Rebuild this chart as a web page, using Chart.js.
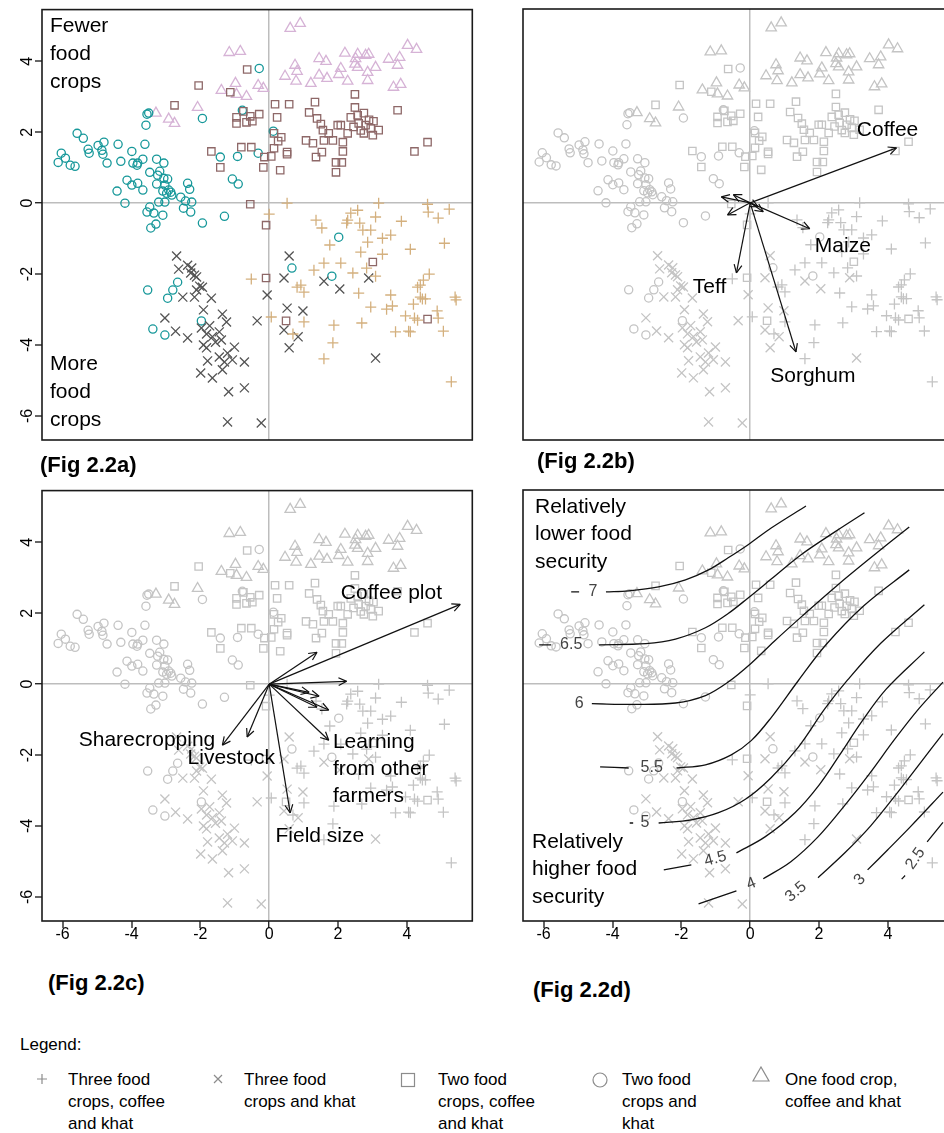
<!DOCTYPE html>
<html>
<head>
<meta charset="utf-8">
<script src="https://cdn.jsdelivr.net/npm/chart.js@4.4.1/dist/chart.umd.min.js"></script>
<style>
  html, body { margin: 0; padding: 0; background: #fff; overflow: hidden; width: 944px; height: 1133px; }
  body { position: relative; font-family: "Liberation Sans", Arial, sans-serif; color: #000; }
  canvas { position: absolute; }
  .fig { position: absolute; font-weight: bold; font-size: 22px; line-height: 24px; }
  .leg { position: absolute; font-size: 17px; line-height: 22px; }
  .sym { position: absolute; }
</style>
</head>
<body>

<canvas id="pA" width="480" height="480" style="left:0;top:0"></canvas>
<canvas id="pB" width="480" height="480" style="left:481px;top:0"></canvas>
<canvas id="pC" width="480" height="480" style="left:0;top:481px"></canvas>
<canvas id="pD" width="480" height="480" style="left:481px;top:481px"></canvas>

<div class="fig" style="left:40px;top:453px">(Fig 2.2a)</div>
<div class="fig" style="left:537px;top:449px">(Fig 2.2b)</div>
<div class="fig" style="left:48px;top:971px">(Fig 2.2c)</div>
<div class="fig" style="left:533px;top:978px">(Fig 2.2d)</div>

<!-- legend -->
<div class="leg" style="left:20px;top:1034px">Legend:</div>
<svg class="sym" style="left:35px;top:1072px" width="14" height="14"><path d="M7 2V12M2 7H12" stroke="#8c8c8c" stroke-width="1.2" fill="none"/></svg>
<div class="leg" style="left:68px;top:1069px">Three food<br>crops, coffee<br>and khat</div>
<svg class="sym" style="left:211px;top:1072px" width="14" height="14"><path d="M3 3L11 11M11 3L3 11" stroke="#8c8c8c" stroke-width="1.2" fill="none"/></svg>
<div class="leg" style="left:244px;top:1069px">Three food<br>crops and khat</div>
<svg class="sym" style="left:400px;top:1072px" width="16" height="16"><rect x="1.5" y="1.5" width="13" height="13" stroke="#8c8c8c" stroke-width="1.2" fill="none"/></svg>
<div class="leg" style="left:438px;top:1069px">Two food<br>crops, coffee<br>and khat</div>
<svg class="sym" style="left:592px;top:1072px" width="16" height="16"><circle cx="8" cy="8" r="7" stroke="#8c8c8c" stroke-width="1.2" fill="none"/></svg>
<div class="leg" style="left:622px;top:1069px">Two food<br>crops and<br>khat</div>
<svg class="sym" style="left:752px;top:1066px" width="18" height="16"><path d="M9 1L17 15H1Z" stroke="#8c8c8c" stroke-width="1.2" fill="none"/></svg>
<div class="leg" style="left:785px;top:1069px">One food crop,<br>coffee and khat</div>

<script>
// ============================================================
// DATA (ordination scores)
// ============================================================

const X_TICKS = [-6, -4, -2, 0, 2, 4];
const Y_TICKS = [-6, -4, -2, 0, 2, 4];
const X_RANGE = [-6.6, 5.9];
const Y_RANGE = [-6.68, 5.46];

// three food crops, coffee and khat (+)
const PLUS_PTS = [
  [0.52,0.00],[3.18,0.00],[4.60,-0.03],[4.62,-0.25],[5.23,-0.17],[4.91,-0.42],[0.00,-0.31],[2.57,-0.20],
  [2.37,-0.28],[2.28,-0.48],[2.25,-0.56],[1.36,-0.48],[1.53,-0.70],[2.63,-0.56],[2.72,-0.76],[2.95,-0.76],
  [3.09,-0.39],[3.84,-0.51],[3.53,-0.90],[3.29,-0.99],[2.86,-1.10],[1.76,-1.18],[4.10,-1.30],[5.09,-1.13],
  [2.66,-1.38],[3.29,-1.44],[1.59,-1.69],[2.08,-1.69],[1.30,-1.89],[2.43,-1.97],[2.83,-1.83],[3.09,-2.06],
  [4.65,-2.00],[4.48,-2.17],[4.39,-2.31],[4.31,-2.37],[0.81,-2.37],[0.92,-2.31],[1.01,-2.51],[2.60,-2.54],
  [3.53,-2.59],[4.39,-2.65],[5.40,-2.65],[-0.52,-2.14],[0.06,-3.21],[1.01,-3.35],[0.69,-3.69],[1.88,-3.44],
  [1.85,-3.94],[1.59,-4.39],[2.69,-3.38],[2.95,-2.93],[3.41,-2.99],[3.58,-2.90],[4.19,-2.85],[4.45,-2.70],
  [4.54,-2.70],[3.96,-3.18],[4.22,-3.24],[4.31,-3.30],[4.88,-3.04],[4.91,-3.24],[3.67,-3.63],[4.05,-3.61],
  [4.10,-3.63],[5.06,-3.61],[5.43,-2.73],[5.29,-5.04]
];

// three food crops and khat (x)
const CROSS_PTS = [
  [-2.69,-1.49],[-2.63,-1.86],[-2.37,-1.75],[-2.25,-1.83],[-2.28,-1.97],[-2.17,-2.03],[-2.11,-2.08],
  [-2.02,-2.34],[-1.94,-2.37],[-2.11,-2.45],[-2.51,-2.65],[-2.17,-2.65],[-1.68,-2.68],[0.58,-1.49],
  [0.43,-2.11],[1.59,-2.20],[2.05,-2.42],[2.89,-2.11],[-0.06,-2.59],[-1.91,-3.01],[-1.36,-3.13],
  [-1.24,-3.35],[-3.03,-3.24],[-2.72,-3.61],[-2.37,-3.80],[-1.97,-3.52],[-1.73,-3.46],[-1.82,-3.69],
  [-1.65,-3.77],[-1.45,-3.63],[-1.56,-3.92],[-1.91,-4.00],[-1.82,-4.08],[-1.39,-3.86],[-1.01,-4.06],
  [-1.21,-4.23],[-1.07,-4.42],[-0.72,-4.48],[-1.79,-4.45],[-1.45,-4.34],[-1.30,-4.48],[-1.36,-4.70],
  [-1.99,-4.79],[-1.65,-4.93],[-1.18,-5.32],[-0.72,-5.21],[-1.21,-6.17],[-0.23,-6.20],[-0.35,-3.32],
  [0.52,-2.96],[0.98,-3.04],[0.43,-3.58],[0.84,-3.77],[0.58,-4.08],[3.09,-4.37]
];

// two food crops, coffee and khat (square)
const SQUARE_PTS = [
  [-0.64,3.77],[-2.05,3.32],[-1.13,3.13],[-2.75,2.76],[-0.95,2.42],[-0.75,2.59],[-0.55,2.45],[-0.29,2.51],
  [-0.95,2.25],[-0.66,2.28],[-0.49,2.31],[-0.81,1.58],[-0.52,1.58],[-1.68,1.46],[2.49,3.07],[0.17,2.79],
  [0.58,2.79],[1.33,2.85],[0.23,2.42],[1.16,2.56],[1.39,2.39],[2.49,2.70],[3.73,2.62],[1.50,2.23],
  [1.56,2.06],[1.73,1.97],[1.99,2.20],[2.08,2.20],[2.28,1.97],[2.37,2.42],[2.57,2.48],[2.75,2.54],
  [2.60,2.25],[2.80,2.20],[3.03,2.31],[2.95,2.11],[3.18,2.06],[2.75,1.97],[3.01,1.92],[2.14,1.72],
  [1.85,1.77],[1.59,1.77],[1.07,1.77],[1.27,1.69],[2.14,1.46],[1.53,1.44],[4.60,1.72],[4.22,1.46],
  [0.35,1.86],[0.14,1.97],[0.26,1.75],[0.52,1.44],[0.14,1.55],[2.45,2.15],[2.66,2.05],[2.90,2.35],
  [-1.42,1.01],[-0.55,-0.03],[-0.09,-0.62],[-0.09,-2.11],[-0.14,1.30],[0.06,1.32],[0.52,1.38],
  [0.32,0.93],[1.36,1.30],[1.94,1.15],[2.11,1.15],[1.94,0.87],[-0.17,1.01],[3.01,-1.66],
  [0.49,-3.32],[4.60,-3.27]
];

// two food crops and khat (circle)
const CIRCLE_PTS = [
  [-0.29,3.80],[-0.78,2.62],[-1.94,2.39],[-3.55,2.51],[-3.50,2.54],[-3.58,2.20],[-5.58,1.97],[-5.40,1.83],
  [-6.04,1.41],[-5.26,1.52],[-5.23,1.41],[-4.97,1.63],[-4.80,1.72],[-4.86,1.49],[-4.39,1.66],[-3.99,1.46],
  [-3.61,1.66],[-0.32,1.41],[0.12,2.03],[-6.13,1.15],[-5.92,1.27],[-5.78,1.07],[-5.64,1.04],[-4.83,1.38],
  [-4.71,1.13],[-4.31,1.18],[-3.96,1.13],[-3.84,1.07],[-3.82,1.13],[-3.67,1.24],[-3.27,1.24],[-3.06,1.13],
  [-3.47,0.87],[-3.18,0.90],[-3.24,0.79],[-3.06,0.70],[-2.95,0.68],[-4.13,0.65],[-3.99,0.51],[-3.82,0.56],
  [-3.67,0.37],[-4.42,0.34],[-3.27,0.54],[-3.03,0.51],[-2.92,0.37],[-2.98,0.28],[-2.86,0.31],[-2.83,0.23],
  [-3.09,0.34],[-2.37,0.56],[-2.31,0.39],[-2.57,0.17],[-2.43,0.06],[-2.25,0.03],[-2.49,-0.14],[-2.28,-0.25],
  [-3.21,0.03],[-3.03,0.03],[-4.19,0.00],[-3.47,-0.11],[-3.55,-0.25],[-3.35,-0.28],[-3.09,-0.34],
  [-3.29,-0.59],[-3.44,-0.70],[-1.94,-0.56],[-1.30,-0.37],[-1.42,1.30],[-0.92,1.32],[-1.07,0.68],
  [-0.90,0.54],[-3.53,-2.45],[-2.80,-2.45],[-2.66,-2.23],[-2.95,-2.68],[2.02,-0.96],[0.66,-1.83],
  [1.82,-2.06],[-3.38,-3.55],[-3.03,-3.72],[-1.97,-3.32]
];

// one food crop, coffee and khat (triangle)
const TRIANGLE_PTS = [
  [-1.16,4.25],[-0.84,4.28],[-1.39,3.18],[-0.98,3.38],[-0.95,3.07],[-0.66,3.01],[-0.32,3.32],[-0.17,3.24],
  [-3.29,2.54],[-2.92,2.37],[-2.75,2.25],[-2.08,2.70],[0.61,4.93],[0.90,5.07],[1.45,4.08],[1.65,4.00],
  [2.20,4.23],[2.57,4.20],[2.51,4.08],[2.80,4.17],[2.89,4.20],[2.49,3.92],[2.57,3.83],[2.08,3.80],
  [2.02,3.63],[3.09,3.83],[2.86,3.69],[2.86,3.46],[3.47,4.06],[3.79,4.11],[3.73,3.89],[4.02,4.45],
  [4.28,4.34],[3.61,3.27],[3.82,3.35],[0.75,3.89],[0.81,3.72],[0.78,3.44],[0.46,3.58],[1.21,3.38],
  [1.45,3.61],[1.68,3.52],[2.28,3.44]
];

// fitted vectors: crops (Fig b)
const CROP_ARROWS = [[4.25,1.55],[1.73,-0.73],[-0.40,-1.97],[1.33,-4.20],[-0.84,0.17],[-0.66,-0.34],[-0.49,0.23],[0.38,-0.25],[0.23,-0.11]];
const CROP_LABELS = ["Coffee", "Maize", "Teff", "Sorghum"];
const CROP_LABEL_POS = [[3.99,2.06],[2.69,-1.21],[-1.18,-2.37],[1.82,-4.87]];

// fitted vectors: farm variables (Fig c)
const FARM_ARROWS = [[5.55,2.25],[1.39,0.90],[2.25,0.08],[1.16,-0.23],[1.45,-0.34],[1.39,-0.65],[1.73,-0.73],[1.73,-1.58],[-1.36,-1.72],[-0.64,-1.49],[0.61,-3.63]];
const FARM_LABELS = [["Coffee plot"], ["Sharecropping"], ["Livestock"], ["Learning", "from other", "farmers"], ["Field size"]];
const FARM_LABEL_POS = [[3.55,2.56],[-3.55,-1.58],[-1.10,-2.08],[1.85,-1.63],[1.47,-4.28]];

// food security surface (Fig d): each contour split where its label sits
const CONTOUR_LEVELS = ["7", "6.5", "6", "5.5", "5", "4.5", "4", "3.5", "3", "2.5"];
const CONTOUR_LINES = [
  [[[-5.20,2.59],[-4.97,2.59]], [[-4.19,2.59],[-3.53,2.62],[-2.66,2.73],[-1.88,2.93],[-1.21,3.21],[-0.64,3.55],[-0.06,3.92],[0.61,4.39],[1.62,5.01]]],
  [[[-6.13,1.10],[-5.78,1.10]], [[-4.39,1.10],[-3.03,1.13],[-2.17,1.26],[-1.30,1.58],[-0.64,1.98],[-0.06,2.42],[0.61,2.95],[1.47,3.63],[2.46,4.28],[3.32,4.82]]],
  [[[-4.60,-0.56],[-3.32,-0.58],[-2.17,-0.54],[-1.30,-0.33],[-0.64,0.05],[0.03,0.58],[0.70,1.20],[1.50,1.90],[2.50,2.75],[3.50,3.55],[4.62,4.42]]],
  [[[-4.36,-2.34],[-3.53,-2.37]], [[-2.14,-2.37],[-1.30,-2.28],[-0.55,-2.00],[0.03,-1.60],[0.61,-0.95],[1.39,0.08],[2.20,1.10],[3.30,2.20],[4.62,3.21]]],
  [[[-3.50,-3.92],[-3.40,-3.92]], [[-2.66,-3.92],[-1.71,-3.83],[-0.92,-3.63],[-0.14,-3.25],[0.60,-2.65],[1.40,-1.78],[2.17,-0.70],[2.83,0.11],[3.80,1.15],[5.06,2.23]]],
  [[[-2.51,-5.24],[-1.71,-5.10]], [[-0.40,-4.76],[0.43,-4.31],[1.30,-3.63],[2.00,-2.85],[2.60,-2.00],[3.25,-1.05],[3.95,-0.15],[5.06,0.90]]],
  [[[-1.50,-6.20],[-0.40,-5.83]], [[0.38,-5.49],[1.18,-5.01],[1.97,-4.31],[2.70,-3.48],[3.45,-2.55],[4.20,-1.56],[4.90,-0.70],[5.60,0.05]]],
  [[[1.97,-5.46],[2.75,-4.76],[3.50,-4.00],[4.25,-3.10],[4.90,-2.28],[5.60,-1.40]]],
  [[[3.41,-5.24],[3.99,-4.68],[4.65,-4.03],[5.60,-3.05]]],
  [[[4.40,-5.50],[4.50,-5.40]], [[5.14,-4.45],[5.60,-3.90]]]
];
const CONTOUR_LABEL_POS = [[-4.57,2.59,0],[-5.20,1.10,0],[-4.97,-0.56,0],[-2.86,-2.37,0],[-3.06,-3.92,0],[-1.01,-4.93,-15],[0.03,-5.63,-22],[1.33,-5.86,-40],[3.18,-5.52,-45],[4.80,-4.92,-55]];

const FONT = '"Liberation Sans", Arial, sans-serif';


// ============================================================
// PLUGINS
// ============================================================

// full box round the plot region
const framePlugin = {
  id: "frame",
  afterDatasetsDraw(chart) {
    const { ctx, chartArea: a } = chart;
    ctx.save();
    ctx.strokeStyle = "#1a1a1a";
    ctx.lineWidth = 1.6;
    ctx.strokeRect(a.left, a.top, a.right - a.left, a.bottom - a.top);
    ctx.restore();
  }
};

// open arrow heads at the end of every vector dataset
const arrowPlugin = {
  id: "arrowHeads",
  afterDatasetsDraw(chart) {
    const ctx = chart.ctx;
    chart.data.datasets.forEach((ds, i) => {
      if (!ds.arrowHead) return;
      const pts = chart.getDatasetMeta(i).data;
      const p0 = pts[0], p1 = pts[1];
      const ang = Math.atan2(p1.y - p0.y, p1.x - p0.x);
      const len = 9;
      ctx.save();
      ctx.strokeStyle = "#111";
      ctx.lineWidth = 1.2;
      ctx.beginPath();
      [ang + Math.PI - 0.45, ang + Math.PI + 0.45].forEach(a => {
        ctx.moveTo(p1.x, p1.y);
        ctx.lineTo(p1.x + len * Math.cos(a), p1.y + len * Math.sin(a));
      });
      ctx.stroke();
      ctx.restore();
    });
  }
};

// text notes, either in data units (x, y) or in pixels from the plot corner (px, py)
function notesPlugin(items) {
  return {
    id: "notes",
    afterDatasetsDraw(chart) {
      const { ctx, chartArea: a, scales } = chart;
      ctx.save();
      ctx.beginPath();
      ctx.rect(a.left, a.top, a.right - a.left, a.bottom - a.top);
      ctx.clip();
      items.forEach(it => {
        ctx.font = it.font || ("21px " + FONT);
        ctx.fillStyle = it.color || "#000";
        ctx.textAlign = it.align || "center";
        ctx.textBaseline = "middle";
        const px = it.px != null ? a.left + it.px : scales.x.getPixelForValue(it.x);
        const py = it.py != null ? a.top + it.py : scales.y.getPixelForValue(it.y);
        ctx.save();
        ctx.translate(px, py);
        ctx.rotate((it.rot || 0) * Math.PI / 180);
        it.lines.forEach((s, k) => ctx.fillText(s, 0, k * (it.lh || 28)));
        ctx.restore();
      });
      ctx.restore();
    }
  };
}


// ============================================================
// BUILDERS
// ============================================================

const toXY = arr => arr.map(p => ({ x: p[0], y: p[1] }));

function pointSets(grey) {
  const c = col => (grey ? "#c4c4c4" : col);
  const base = { borderWidth: 1.3, backgroundColor: "rgba(0,0,0,0)", order: 2 };
  return [
    { ...base, data: toXY(PLUS_PTS), pointStyle: "cross", pointRadius: 5.5, borderColor: c("#d4b07e") },
    { ...base, data: toXY(CROSS_PTS), pointStyle: "crossRot", pointRadius: 6.4, borderColor: c("#555555") },
    { ...base, data: toXY(SQUARE_PTS), pointStyle: "rect", pointRadius: 5.2, borderColor: c("#8e6868") },
    { ...base, data: toXY(CIRCLE_PTS), pointStyle: "circle", pointRadius: 4.1, borderColor: c("#17989a") },
    { ...base, data: toXY(TRIANGLE_PTS), pointStyle: "triangle", pointRadius: 6, borderColor: c("#d6b3d6") }
  ];
}

function arrowSets(ends) {
  return ends.map(e => ({
    data: [{ x: 0, y: 0 }, { x: e[0], y: e[1] }],
    showLine: true, pointRadius: 0, borderColor: "#111", borderWidth: 1.2,
    arrowHead: true, order: 0
  }));
}

function contourSets() {
  const out = [];
  CONTOUR_LINES.forEach(segs => segs.forEach(seg => out.push({
    data: toXY(seg), showLine: true, pointRadius: 0, borderColor: "#111",
    borderWidth: 1.3, tension: 0.35, order: 0
  })));
  return out;
}

function axis(ticks, range, showTicks, isX) {
  return {
    type: "linear",
    min: range[0],
    max: range[1],
    afterBuildTicks: s => { s.ticks = ticks.map(v => ({ value: v })); },
    afterFit: s => { if (isX) s.height = 40; else s.width = 42; },
    border: { display: false },
    grid: {
      drawOnChartArea: true,
      color: c => (c.tick && c.tick.value === 0 ? "#bdbdbd" : "rgba(0,0,0,0)"),
      lineWidth: c => (c.tick && c.tick.value === 0 ? 1.5 : 0),
      drawTicks: showTicks,
      tickLength: 7,
      tickColor: "#000",
      tickWidth: 1.2
    },
    ticks: {
      display: showTicks,
      autoSkip: false,
      padding: isX ? 7 : 0,
      minRotation: isX ? 0 : 90,
      maxRotation: isX ? 0 : 90,
      crossAlign: "center",
      color: "#000",
      font: { family: FONT, size: 16 }
    }
  };
}

function makePanel(id, cfg) {
  new Chart(document.getElementById(id), {
    type: "scatter",
    data: { datasets: [...(cfg.lines || []), ...pointSets(cfg.grey)] },
    options: {
      responsive: false,
      animation: false,
      events: [],
      layout: { padding: { top: 9, right: 6, left: 0, bottom: 0 } },
      scales: {
        x: axis(X_TICKS, X_RANGE, cfg.xTicks, true),
        y: axis(Y_TICKS, Y_RANGE, cfg.yTicks, false)
      },
      plugins: { legend: { display: false }, tooltip: { enabled: false } }
    },
    plugins: [framePlugin, arrowPlugin, notesPlugin(cfg.notes || [])]
  });
}


// ============================================================
// PANELS
// ============================================================

makePanel("pA", {
  grey: false, xTicks: false, yTicks: true,
  notes: [
    { lines: ["Fewer", "food", "crops"], px: 8, py: 17, align: "left" },
    { lines: ["More", "food", "crops"], px: 8, py: 355, align: "left" }
  ]
});

makePanel("pB", {
  grey: true, xTicks: false, yTicks: false,
  lines: arrowSets(CROP_ARROWS),
  notes: CROP_LABELS.map((t, i) => ({ lines: [t], x: CROP_LABEL_POS[i][0], y: CROP_LABEL_POS[i][1] }))
});

makePanel("pC", {
  grey: true, xTicks: true, yTicks: true,
  lines: arrowSets(FARM_ARROWS),
  notes: FARM_LABELS.map((t, i) => ({
    lines: t, x: FARM_LABEL_POS[i][0], y: FARM_LABEL_POS[i][1],
    align: t.length > 1 ? "left" : "center", lh: 27
  }))
});

makePanel("pD", {
  grey: true, xTicks: true, yTicks: false,
  lines: contourSets(),
  notes: [
    { lines: ["Relatively", "lower food", "security"], px: 12, py: 17, align: "left", lh: 27.5 },
    { lines: ["Relatively", "higher food", "security"], px: 9, py: 352, align: "left", lh: 27.5 },
    ...CONTOUR_LEVELS.map((lv, i) => ({
      lines: [lv], x: CONTOUR_LABEL_POS[i][0], y: CONTOUR_LABEL_POS[i][1], rot: CONTOUR_LABEL_POS[i][2],
      font: "16px " + FONT, color: "#444"
    }))
  ]
});
</script>
</body>
</html>
